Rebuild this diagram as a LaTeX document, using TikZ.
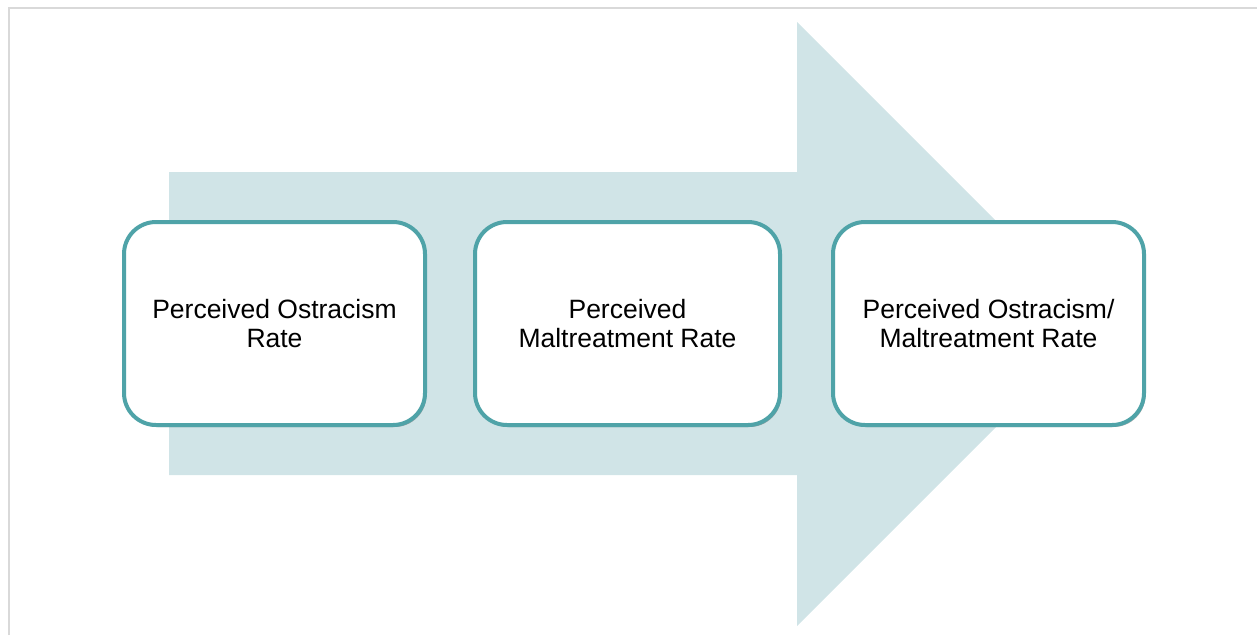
\documentclass[tikz,border=0pt]{standalone}
\usepackage{fontspec}
\setmainfont{Liberation Sans}
\usepackage{tikz}
\usetikzlibrary{positioning,shadows}
\definecolor{flow}{RGB}{208,228,231}
\definecolor{rim}{RGB}{79,163,168}
\definecolor{frame}{RGB}{217,217,217}

\begin{document}
\begin{tikzpicture}[x=1pt, y=-1pt,
		stage/.style={rectangle, rounded corners=32pt, fill=white, draw=rim,
			line width=4pt, minimum width=301pt, minimum height=203pt,
			align=center, inner sep=0pt,
			font=\fontsize{26.5}{28.5}\selectfont,
			drop shadow={shadow xshift=1.5pt, shadow yshift=-2pt, opacity=0.3, fill=black}}]
		\useasboundingbox (0,0) rectangle (1257,635);
		% slide frame
		\draw[frame, line width=2pt] (8.5,635) -- (8.5,7.5) -- (1257,7.5);
		% the big arrow behind the stages
		\fill[flow] (169,172) -- (797,172) -- (797,22) -- (1099,324)
			-- (797,626) -- (797,475) -- (169,475) -- cycle;
		\node[stage] (ostracism) at (274.5,323.5) {Perceived Ostracism\\Rate};
		\node[stage, minimum width=305pt] (maltreatment) at (627.5,323.5)
			{Perceived\\Maltreatment Rate};
		\node[stage, minimum width=311pt] (combined) at (988.5,323.5)
			{Perceived Ostracism/\\Maltreatment Rate};
	\end{tikzpicture}
\end{document}
